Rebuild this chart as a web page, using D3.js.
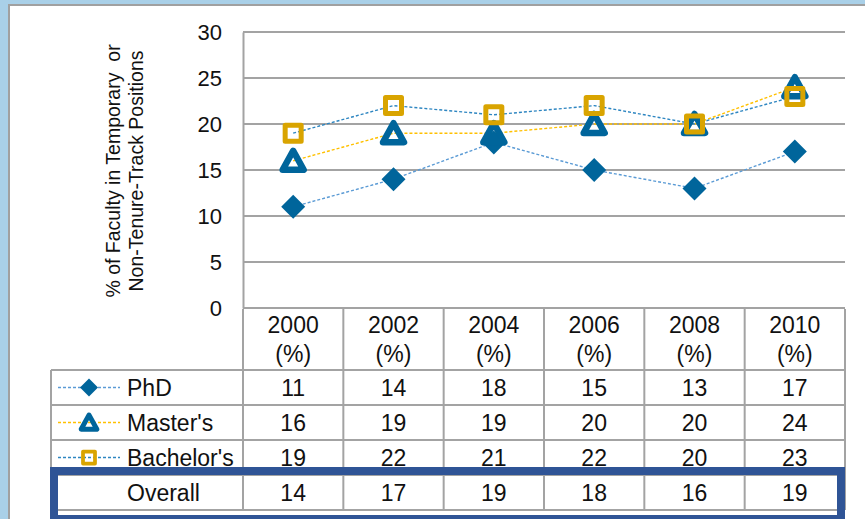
<!DOCTYPE html>
<html>
<head>
<meta charset="utf-8">
<script src="https://cdn.jsdelivr.net/npm/d3@7"></script>
<style>
  body { margin: 0; background: #fff; }
  svg text { font-family: "Liberation Sans", Arial, sans-serif; fill: #111; }
</style>
</head>
<body>
<svg id="chart" width="865" height="519"></svg>
<script>
// ---- data ----
var years = ["2000", "2002", "2004", "2006", "2008", "2010"];
var phd = [11, 14, 18, 15, 13, 17];
var masters = [16, 19, 19, 20, 20, 24];
var bachelors = [19, 22, 21, 22, 20, 23];
var overall = [14, 17, 19, 18, 16, 19];
var yTicks = [0, 5, 10, 15, 20, 25, 30];

var series = [
    {name: "PhD", values: phd, marker: "diamond", line: "#5b9bd5"},
    {name: "Master's", values: masters, marker: "triangle", line: "#ffc000"},
    {name: "Bachelor's", values: bachelors, marker: "square", line: "#2e86c1"}
];

var markerBlue = "#00659b",
    gold = "#d9a400",
    grid = "#a3a3a3",
    boxBlue = "#2f5496";

var svg = d3.select("#chart");

// page frame
svg.append("rect").attr("width", 865).attr("height", 519).attr("fill", "#a9d0e8");
svg.append("rect").attr("x", 9).attr("y", 5).attr("width", 870).attr("height", 530)
    .attr("fill", "#fff").attr("stroke", "#a0a0a0").attr("stroke-width", 2);

// scales
var x = d3.scaleBand().domain(years).range([243, 845]);
var y = d3.scaleLinear().domain([0, 30]).range([308, 32]);
var xc = function(i) { return x(years[i]) + x.bandwidth() / 2; };

// gridlines
svg.append("g").selectAll("line").data(yTicks).join("line")
    .attr("x1", 243).attr("x2", 845)
    .attr("y1", function(d) { return y(d); }).attr("y2", function(d) { return y(d); })
    .attr("stroke", grid).attr("stroke-width", 2);

// y axis
var yAxis = d3.axisLeft(y).tickValues(yTicks).tickSize(0).tickPadding(21);
var gy = svg.append("g").attr("transform", "translate(243,0)").call(yAxis);
gy.select(".domain").attr("stroke", grid).attr("stroke-width", 2);
gy.selectAll("text").style("font-size", "22px").attr("fill", "#111");

// y axis title
var title = svg.append("text")
    .attr("transform", "translate(113,171) rotate(-90)")
    .attr("text-anchor", "middle")
    .style("font-size", "19.5px")
    .style("white-space", "pre");
title.append("tspan").attr("x", 0).attr("dy", "0.35em").text("% of Faculty in Temporary  or");
title.append("tspan").attr("x", 0).attr("dy", 23).text("Non-Tenure-Track Positions");

// marker drawing
function drawMarker(g, type, s) {
    if (type === "diamond") {
        g.append("path")
            .attr("d", "M0," + (-12 * s) + "L" + (12 * s) + ",0L0," + (12 * s) + "L" + (-12 * s) + ",0Z")
            .attr("fill", markerBlue);
    } else if (type === "triangle") {
        g.append("path")
            .attr("d", "M0," + (-10 * s) + "L" + (10.5 * s) + "," + (9 * s) + "L" + (-10.5 * s) + "," + (9 * s) + "Z")
            .attr("fill", "none").attr("stroke", markerBlue)
            .attr("stroke-width", 6.5 * s).attr("stroke-linejoin", "round");
    } else {
        g.append("rect")
            .attr("x", -8 * s).attr("y", -8 * s)
            .attr("width", 16 * s).attr("height", 16 * s)
            .attr("fill", "none").attr("stroke", gold)
            .attr("stroke-width", 5 * s).attr("stroke-linejoin", "round");
    }
}

// lines
var line = d3.line()
    .x(function(d, i) { return xc(i); })
    .y(function(d) { return y(d); });

series.forEach(function(s) {
    svg.append("path")
        .attr("d", line(s.values))
        .attr("fill", "none")
        .attr("stroke", s.line)
        .attr("stroke-width", 1.4)
        .attr("stroke-dasharray", "3,2");
});

// markers
series.forEach(function(s) {
    s.values.forEach(function(v, i) {
        var g = svg.append("g").attr("transform", "translate(" + xc(i) + "," + y(v) + ")");
        drawMarker(g, s.marker, 1);
    });
});

// ---- data table ----
var rowTop = [370, 405, 440, 475],
    rowH = 35,
    tableLeft = 51,
    tableRight = 845,
    tableBottom = 510;
var rows = series.map(function(s) { return {name: s.name, values: s.values, s: s}; })
    .concat([{name: "Overall", values: overall, s: null}]);

var tbl = svg.append("g");

// header cells
years.forEach(function(yr, i) {
    tbl.append("text").attr("x", xc(i)).attr("y", 325).attr("dy", "0.35em")
        .attr("text-anchor", "middle").style("font-size", "23px").text(yr);
    tbl.append("text").attr("x", xc(i)).attr("y", 354).attr("dy", "0.35em")
        .attr("text-anchor", "middle").style("font-size", "23px").text("(%)");
});

// vertical lines
x.domain().concat(["end"]).forEach(function(yr, i) {
    var xx = i < years.length ? x(yr) : tableRight;
    tbl.append("line").attr("x1", xx).attr("x2", xx).attr("y1", 309).attr("y2", tableBottom)
        .attr("stroke", grid).attr("stroke-width", 2);
});
tbl.append("line").attr("x1", tableLeft).attr("x2", tableLeft).attr("y1", rowTop[0]).attr("y2", tableBottom)
    .attr("stroke", grid).attr("stroke-width", 2);

// horizontal lines
rowTop.concat([tableBottom]).forEach(function(yy) {
    tbl.append("line").attr("x1", tableLeft).attr("x2", tableRight).attr("y1", yy).attr("y2", yy)
        .attr("stroke", grid).attr("stroke-width", 2);
});

// row content
rows.forEach(function(r, k) {
    var cy = rowTop[k] + rowH / 2;
    if (r.s) {
        tbl.append("line").attr("x1", 58).attr("x2", 120).attr("y1", cy).attr("y2", cy)
            .attr("stroke", r.s.line).attr("stroke-width", 1.4).attr("stroke-dasharray", "3,2");
        var g = tbl.append("g").attr("transform", "translate(89," + cy + ")");
        drawMarker(g, r.s.marker, 0.75);
    }
    tbl.append("text").attr("x", 127).attr("y", cy).attr("dy", "0.35em")
        .style("font-size", "23px").text(r.name);
    r.values.forEach(function(v, i) {
        tbl.append("text").attr("x", xc(i)).attr("y", cy).attr("dy", "0.35em")
            .attr("text-anchor", "middle").style("font-size", "23px").text(v);
    });
});

// highlight box around Overall row
svg.append("rect").attr("x", 54).attr("y", 471).attr("width", 787).attr("height", 48)
    .attr("fill", "none").attr("stroke", boxBlue).attr("stroke-width", 8);
</script>
</body>
</html>
